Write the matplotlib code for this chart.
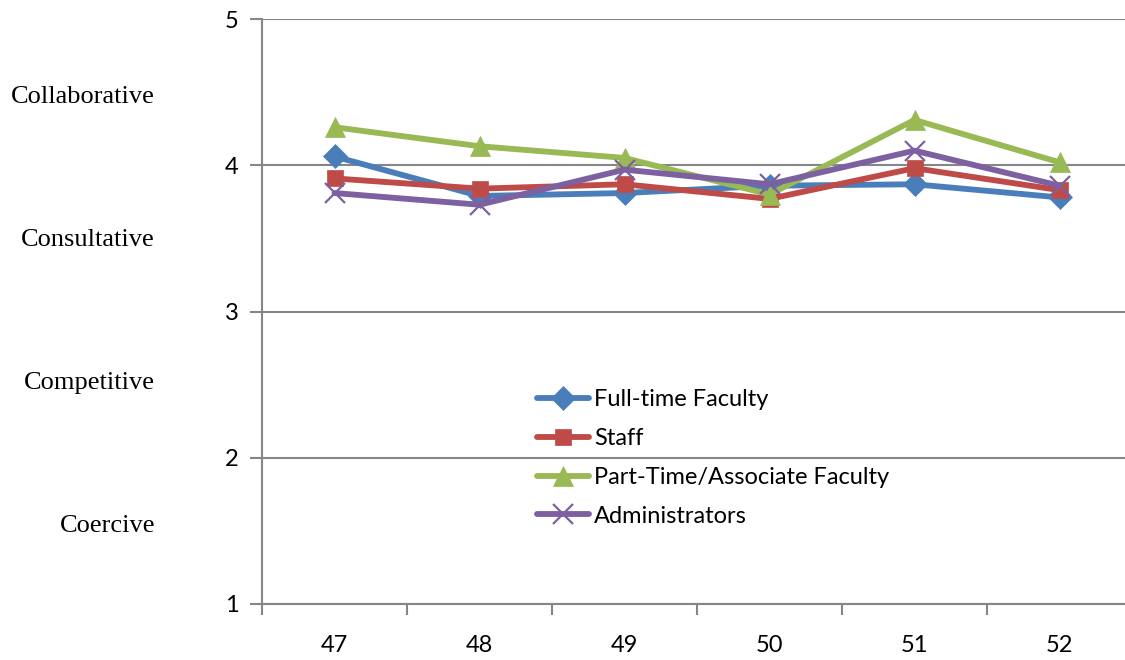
import matplotlib.pyplot as plt

# survey items and mean scores for each group
items = ["47", "48", "49", "50", "51", "52"]
full_time = [4.06, 3.79, 3.81, 3.86, 3.87, 3.78]
staff = [3.91, 3.84, 3.87, 3.77, 3.98, 3.83]
part_time = [4.26, 4.13, 4.05, 3.80, 4.31, 4.02]
admins = [3.81, 3.73, 3.97, 3.87, 4.10, 3.86]

styles = ["Collaborative", "Consultative", "Competitive", "Coercive"]
style_pos = [4.47, 3.49, 2.51, 1.53]

series = [
    ("Full-time Faculty", full_time, "#4A7EBB", "D", 12),
    ("Staff", staff, "#BE4B48", "s", 12),
    ("Part-Time/Associate Faculty", part_time, "#98B954", "^", 14),
    ("Administrators", admins, "#7D60A0", "x", 14),
]

fig = plt.figure(figsize=(11.25, 6.6), dpi=100)
ax = fig.add_axes([262 / 1125, 56 / 660, 870 / 1125, 585 / 660])

x = range(len(items))
for name, vals, color, marker, ms in series:
    ax.plot(x, vals, color=color, lw=4.2, marker=marker, markersize=ms,
            markeredgewidth=1.6 if marker == "x" else 0.5,
            markeredgecolor=color, label=name, solid_joinstyle="round",
            solid_capstyle="round")

ax.set_xlim(-0.5, len(items) - 0.5)
ax.set_ylim(1, 5)
ax.set_yticks([1, 2, 3, 4, 5])
ax.set_xticks(list(x))
ax.set_xticklabels(items)
ax.set_xticks([i - 0.5 for i in range(len(items) + 1)], minor=True)
ax.tick_params(axis="x", which="major", length=0, pad=22, labelsize=17)
ax.tick_params(axis="x", which="minor", length=8, width=1.5, color="#868686",
               direction="out")
ax.tick_params(axis="y", length=9, width=1.5, color="#868686", pad=8,
               labelsize=17)
for lab in ax.get_xticklabels() + ax.get_yticklabels():
    lab.set_family("Lato")

ax.grid(axis="y", color="#868686", lw=1.5)
ax.set_axisbelow(True)
for side in ["top", "right"]:
    ax.spines[side].set_visible(False)
for side in ["left", "bottom"]:
    ax.spines[side].set_color("#868686")
    ax.spines[side].set_linewidth(1.5)

# descriptive labels for each band of the scale
for txt, yv in zip(styles, style_pos):
    ax.text(-107 / 870, yv, txt, transform=ax.get_yaxis_transform(),
            ha="right", va="center", fontsize=19,
            family="Liberation Serif")

leg = fig.legend(loc="upper left", bbox_to_anchor=(528 / 1125, 1 - 380 / 660),
                 frameon=False, handlelength=2.2, handletextpad=0.2,
                 labelspacing=0.75, borderaxespad=0,
                 prop={"family": "Lato", "size": 17})

fig.savefig("out.png", dpi=100)
